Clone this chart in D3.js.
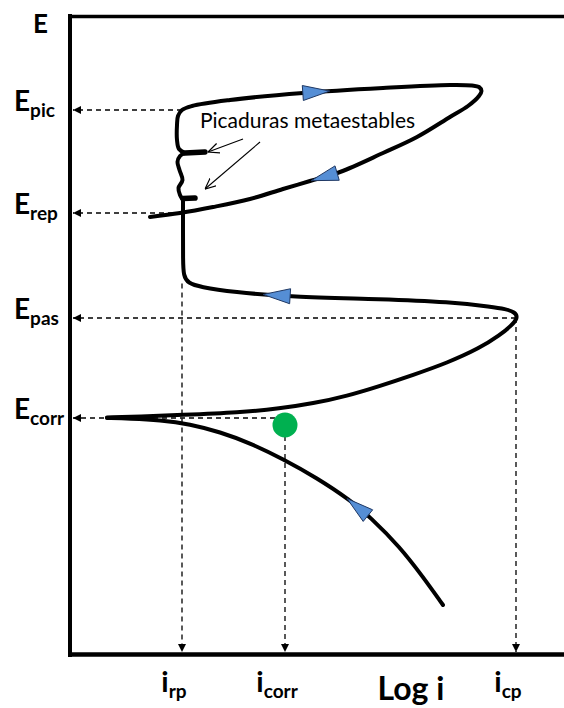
<!DOCTYPE html>
<html><head><meta charset="utf-8">
<script src="https://cdn.jsdelivr.net/npm/d3@7"></script>
<style>body{margin:0;background:#fff}svg{display:block}</style>
</head><body>
<svg id="c" width="564" height="708"></svg>
<script>
// ---- data (schematic units: log i , E) ----
const levelsE = [
  {name:"pic", E:10.92, from:2.24},
  {name:"rep", E:8.86, from:2.24},
  {name:"pas", E:6.76, from:8.92},
  {name:"corr", E:4.76, from:4.10}
];
const levelsI = [
  {name:"rp", i:2.24, from:7.45},
  {name:"corr", i:4.30, from:4.40},
  {name:"cp", i:8.92, from:6.76}
];
const corrPoint = [4.30, 4.62];
const cathodic = [[7.46,1.02],[7.06,1.58],[6.60,2.18],[6.00,2.78],[5.60,3.12],[4.94,3.56],[4.26,3.94],[3.60,4.26],[3.00,4.48],[2.40,4.64],[1.80,4.72],[1.20,4.75],[0.74,4.76]];
const anodic = [[0.74,4.77],[1.40,4.79],[2.20,4.82],[3.40,4.87],[4.20,4.95],[4.86,5.05],[5.54,5.20],[6.20,5.40],[6.86,5.62],[7.54,5.86],[8.20,6.16],[8.60,6.42],[8.82,6.60],[8.96,6.76],[8.90,6.88],[8.70,6.94],[8.46,6.98],[7.60,7.08],[6.26,7.14],[4.40,7.18],[3.26,7.28],[2.60,7.38],[2.36,7.46],[2.27,7.60],[2.26,7.92],[2.26,8.52],[2.26,9.12]];
const wiggle = [[2.26,9.12],[2.20,9.22],[2.17,9.36],[2.25,9.52],[2.19,9.72],[2.15,9.88],[2.20,10.00],[2.30,10.06]];
const nubs = [[[2.26,9.15],[2.50,9.16]], [[2.30,10.06],[2.70,10.08]]];
const loop = [[2.30,10.06],[2.18,10.14],[2.14,10.32],[2.14,10.62],[2.16,10.80],[2.24,10.92],[2.44,11.00],[3.20,11.12],[4.66,11.26],[6.26,11.36],[7.60,11.42],[8.04,11.41],[8.18,11.38],[8.23,11.30],[8.18,11.20],[7.96,11.00],[7.60,10.78],[6.94,10.38],[6.26,10.06],[5.40,9.68],[4.80,9.50],[4.26,9.34],[3.60,9.14],[2.86,8.98],[2.20,8.86],[1.60,8.78]];
// arrow tips (on curve) by segment
const arrowTips = [{seg:"loop", p:[5.20,11.27]},{seg:"loop", p:[4.82,9.53]},{seg:"anodic", p:[3.86,7.22]},{seg:"cathodic", p:[5.56,3.17]}];
const noteText = "Picaduras metaestables";
const notePos = [2.60, 10.56];
const noteArrows = [[[3.46,10.34],[2.76,10.08]], [[3.80,10.28],[2.70,9.34]]];
const xLabel = "Log i";
const yLabel = "E";

// ---- scales ----
const x = d3.scaleLinear().domain([0, 9.88]).range([70, 564]);
const y = d3.scaleLinear().domain([0, 12.8]).range([656, 16]);
const svg = d3.select("#c");
const FONT = "Lato, 'Open Sans', sans-serif";

const defs = svg.append("defs");
defs.append("marker").attr("id","ah").attr("viewBox","0 0 10 10").attr("refX",10).attr("refY",5)
  .attr("markerUnits","userSpaceOnUse").attr("markerWidth",8).attr("markerHeight",8).attr("orient","auto")
  .append("path").attr("d","M0,0L10,5L0,10z").attr("fill","#000");
defs.append("marker").attr("id","open").attr("viewBox","0 0 10 10").attr("refX",10).attr("refY",5)
  .attr("markerUnits","userSpaceOnUse").attr("markerWidth",11).attr("markerHeight",11).attr("orient","auto")
  .append("path").attr("d","M0,0.5L10,5L0,9.5").attr("fill","none").attr("stroke","#000").attr("stroke-width",1.1);

// frame
const [x0,x1] = x.range(), [yb,yt] = y.range();
svg.append("line").attr("x1",x0).attr("x2",x0).attr("y1",yt-2).attr("y2",yb+1).attr("stroke","#000").attr("stroke-width",4);
svg.append("line").attr("x1",x0).attr("x2",x1).attr("y1",yt+0.5).attr("y2",yt+0.5).attr("stroke","#000").attr("stroke-width",3.5);
svg.append("line").attr("x1",x0-2).attr("x2",x1).attr("y1",yb-1.5).attr("y2",yb-1.5).attr("stroke","#000").attr("stroke-width",4.5);

// dashed guides
const dash = svg.append("g").attr("stroke","#000").attr("stroke-width",1.3).attr("stroke-dasharray","5,4").attr("fill","none");
levelsE.forEach(d => dash.append("line").attr("x1",x(d.from)).attr("x2",x0+3).attr("y1",y(d.E)).attr("y2",y(d.E)).attr("marker-end","url(#ah)"));
levelsI.forEach(d => dash.append("line").attr("x1",x(d.i)).attr("x2",x(d.i)).attr("y1",y(d.from)).attr("y2",yb-4).attr("marker-end","url(#ah)"));

// curves
const smooth = d3.line().x(d=>x(d[0])).y(d=>y(d[1])).curve(d3.curveBasis);
const cr = d3.line().x(d=>x(d[0])).y(d=>y(d[1])).curve(d3.curveCatmullRom.alpha(0.5));
const curveG = svg.append("g").attr("fill","none").attr("stroke","#000").attr("stroke-linecap","round").attr("stroke-linejoin","round");
const paths = {};
paths.cathodic = curveG.append("path").attr("d", smooth(cathodic)).attr("stroke-width",4);
paths.anodic = curveG.append("path").attr("d", smooth(anodic)).attr("stroke-width",4);
paths.loop = curveG.append("path").attr("d", cr(loop)).attr("stroke-width",4);
curveG.append("path").attr("d", cr(wiggle)).attr("stroke-width",4);
nubs.forEach(n => curveG.append("path").attr("d", d3.line().x(d=>x(d[0])).y(d=>y(d[1])).curve(d3.curveLinear)(n)).attr("stroke-width",5.5));

// green dot
svg.append("circle").attr("cx",x(corrPoint[0])).attr("cy",y(corrPoint[1])).attr("r",12.5).attr("fill","#00b050");

// blue direction arrows
arrowTips.forEach(a => {
  const node = paths[a.seg].node();
  const L = node.getTotalLength();
  const tx = x(a.p[0]), ty = y(a.p[1]);
  let best = 0, bd = Infinity;
  for (let s = 0; s <= L; s += 0.5) { const q = node.getPointAtLength(s); const dd = (q.x-tx)**2+(q.y-ty)**2; if (dd < bd) { bd = dd; best = s; } }
  const tip = node.getPointAtLength(best);
  const back = node.getPointAtLength(Math.max(0,best-26));
  let dx = tip.x-back.x, dy = tip.y-back.y; const n = Math.hypot(dx,dy); dx/=n; dy/=n;
  const len = 27, hw = 7.5;
  const bx = tip.x - dx*len, by = tip.y - dy*len;
  const pts = [[tip.x,tip.y],[bx - dy*hw, by + dx*hw],[bx + dy*hw, by - dx*hw]];
  svg.append("path").attr("d","M"+pts.map(p=>p.join(",")).join("L")+"Z")
    .attr("fill","#558ed5").attr("stroke","#1f3864").attr("stroke-width",1);
});

// annotation
svg.append("text").attr("x",x(notePos[0])).attr("y",y(notePos[1])).attr("font-family",FONT)
  .attr("font-size",21).attr("fill","#000").text(noteText);
noteArrows.forEach(a => svg.append("line").attr("x1",x(a[0][0])).attr("y1",y(a[0][1])).attr("x2",x(a[1][0])).attr("y2",y(a[1][1]))
  .attr("stroke","#000").attr("stroke-width",1.1).attr("marker-end","url(#open)"));

// labels
svg.append("text").attr("x",x0-37).attr("y",yt+17).attr("font-family",FONT).attr("font-weight","bold").attr("font-size",26).text(yLabel);
levelsE.forEach(d => {
  const t = svg.append("text").attr("x",14).attr("y",y(d.E)+1).attr("font-family",FONT).attr("font-weight","bold");
  t.append("tspan").attr("font-size",28).text("E");
  t.append("tspan").attr("font-size",19).attr("dy",6).text(d.name);
});
levelsI.forEach(d => {
  const t = svg.append("text").attr("x",x(d.i)-8).attr("y",692).attr("text-anchor","middle").attr("font-family",FONT).attr("font-weight","bold");
  t.append("tspan").attr("font-size",29).text("i");
  t.append("tspan").attr("font-size",19).attr("dy",6).text(d.name);
});
svg.append("text").attr("x",411).attr("y",700).attr("text-anchor","middle").attr("font-family",FONT).attr("font-weight","bold").attr("font-size",32).text(xLabel);
</script>
</body></html>
